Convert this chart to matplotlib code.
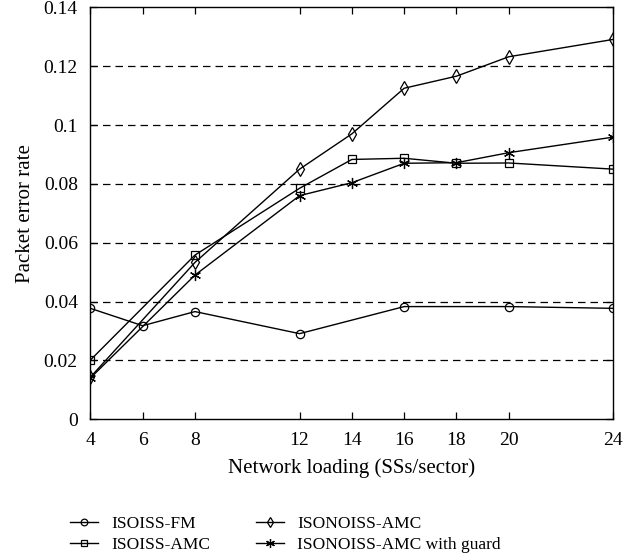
import matplotlib
matplotlib.use("Agg")
import matplotlib.pyplot as plt

plt.rcParams['font.family'] = ['Liberation Serif', 'DejaVu Serif']

x_fm = [4, 6, 8, 12, 16, 20, 24]
fm = [0.0377, 0.0318, 0.0366, 0.0291, 0.0383, 0.0383, 0.0377]

x_amc = [4, 8, 12, 14, 16, 18, 20, 24]
isoiss_amc = [0.0201, 0.0558, 0.0785, 0.0883, 0.0887, 0.0870, 0.0871, 0.0850]
isonoiss_amc = [0.0143, 0.0533, 0.0850, 0.0970, 0.1125, 0.1166, 0.1232, 0.1291]
guard = [0.0140, 0.0490, 0.0760, 0.0804, 0.0870, 0.0872, 0.0906, 0.0959]

xticks = [4, 6, 8, 12, 14, 16, 18, 20, 24]
yticks = [0, 0.02, 0.04, 0.06, 0.08, 0.1, 0.12, 0.14]
ytick_labels = ["0", "0.02", "0.04", "0.06", "0.08", "0.1", "0.12", "0.14"]

fig = plt.figure(figsize=(6.43, 5.58), dpi=100)
ax = fig.add_axes([0.1405, 0.2486, 0.8135, 0.7383])

kw = dict(color='black', lw=1.0, markerfacecolor='none', markeredgecolor='black', markeredgewidth=0.9)
ax.plot(x_fm, fm, marker='o', ms=6, label='ISOISS-FM', **kw)
ax.plot(x_amc, isoiss_amc, marker='s', ms=5.5, label='ISOISS-AMC', **kw)
ax.plot(x_amc, isonoiss_amc, marker='d', ms=7, label='ISONOISS-AMC', **kw)
ax.plot(x_amc, guard, marker=(6, 2, 0), ms=8, label='ISONOISS-AMC with guard', **kw)

ax.set_xlim(4, 24)
ax.set_ylim(0, 0.14)
ax.set_xticks(xticks)
ax.set_xticklabels([str(t) for t in xticks])
ax.set_yticks(yticks)
ax.set_yticklabels(ytick_labels)
ax.tick_params(direction='in', top=True, right=True, labelsize=14, length=5, width=0.9)
ax.tick_params(axis='x', pad=9)
ax.tick_params(axis='y', pad=9)
for y in yticks[1:-1]:
    ax.axhline(y, color='black', lw=0.9, ls=(0, (6, 4)), zorder=0)
for s in ax.spines.values():
    s.set_linewidth(1.0)

ax.set_xlabel('Network loading (SSs/sector)', fontsize=15, labelpad=7)
ax.set_ylabel('Packet error rate', fontsize=15, labelpad=6)

fig.legend(loc='upper left', bbox_to_anchor=(70 / 643, 1 - 516 / 558), ncol=2, frameon=False,
           fontsize=12.5, handlelength=1.6, handletextpad=0.8, columnspacing=2.6,
           labelspacing=0.25, borderpad=0, borderaxespad=0, markerscale=0.8)

fig.savefig('out.png', dpi=100)
